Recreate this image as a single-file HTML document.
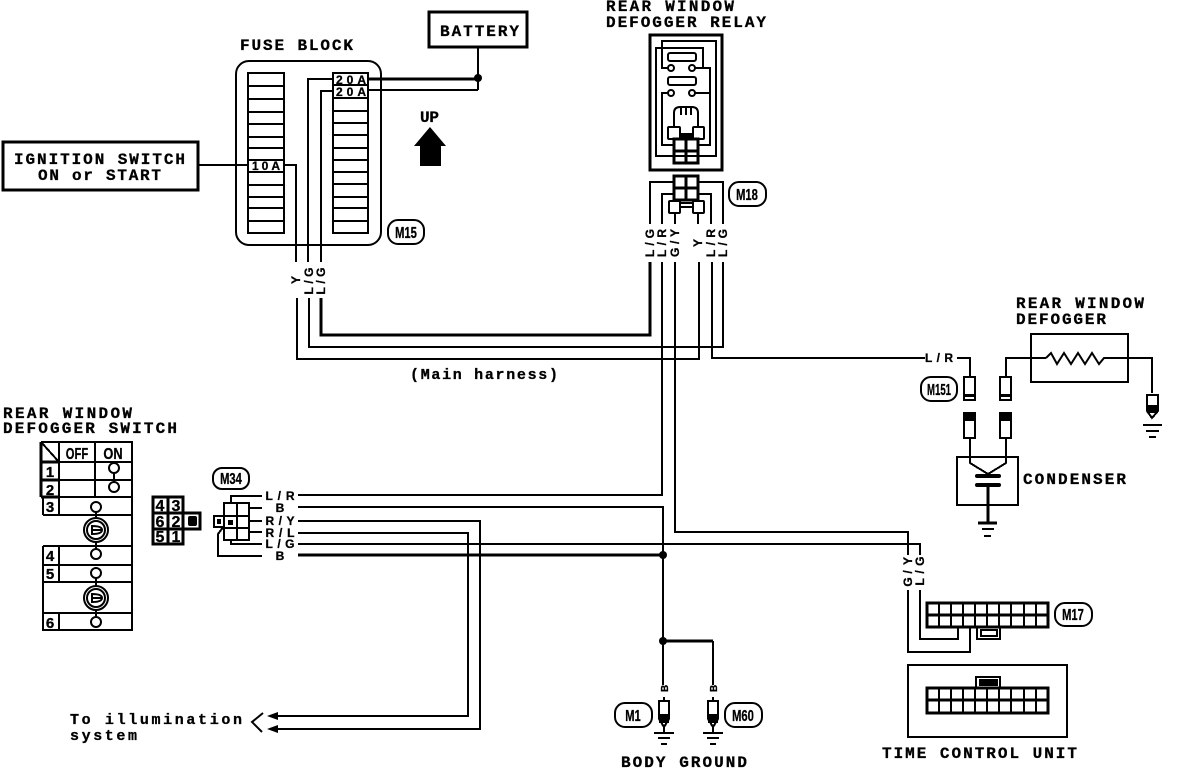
<!DOCTYPE html>
<html>
<head>
<meta charset="utf-8">
<style>
html,body{margin:0;padding:0;background:#fff;width:1184px;height:768px;overflow:hidden}
svg{display:block}
.w{fill:none;stroke:#000;stroke-width:2;shape-rendering:crispEdges}
.t{fill:none;stroke:#000;stroke-width:3;shape-rendering:crispEdges}
.o{fill:#fff;stroke:#000;stroke-width:2}
.c{fill:none;stroke:#000;stroke-width:2}
.k{fill:#000;stroke:none}
text{font-family:"Liberation Mono","Liberation Sans",monospace;font-weight:bold;fill:#000;stroke:#000;stroke-width:.3}
.l{font-size:16px}
.m{font-size:16px;font-family:"Liberation Sans",sans-serif;text-anchor:middle}
.s{font-size:12px;font-family:"Liberation Sans",sans-serif;text-anchor:middle}
.v{font-size:12px;font-family:"Liberation Sans",sans-serif;text-anchor:middle}
.h{font-size:15px;font-family:"Liberation Sans",sans-serif;text-anchor:middle}
</style>
</head>
<body>
<svg width="1184" height="768" viewBox="0 0 1184 768" xmlns="http://www.w3.org/2000/svg">
<rect width="1184" height="768" fill="#fff"/>

<!-- Battery -->
<rect class="t" x="429" y="12" width="98" height="35"/>
<text class="l" x="440" y="36" textLength="79" lengthAdjust="spacing">BATTERY</text>
<path class="w" d="M478 47V90M368 90H478"/>
<path class="t" d="M368 79H478"/>
<circle class="k" cx="478" cy="78" r="4"/>

<!-- Fuse block -->
<text class="l" x="240" y="50" textLength="113" lengthAdjust="spacing">FUSE BLOCK</text>
<rect class="c" x="236" y="61" width="145" height="184" rx="13"/>
<path class="w" d="M248 73H284V233H248ZM248 86H284M248 99H284M248 112H284M248 124H284M248 137H284M248 148H284M248 160H284M248 172H284M248 185H284M248 197H284M248 208H284M248 221H284"/>
<path class="w" d="M333 73H368V233H333ZM333 85H368M333 98H368M333 111H368M333 123H368M333 135H368M333 148H368M333 160H368M333 172H368M333 184H368M333 197H368M333 208H368M333 221H368"/>
<text class="s" x="351" y="84" textLength="30" lengthAdjust="spacing">20A</text>
<text class="s" x="351" y="96" textLength="30" lengthAdjust="spacing">20A</text>
<text class="s" x="266" y="170" textLength="28" lengthAdjust="spacing">10A</text>
<path class="w" d="M333 79H308V262M333 91H321V262"/>
<path class="w" d="M284 165H296V262"/>
<rect class="c" x="388" y="220" width="36" height="24" rx="10"/>
<text class="m" transform="translate(406,238) scale(.7,1)">M15</text>

<text class="v" transform="translate(300,280) rotate(-90)">Y</text>
<text class="v" transform="translate(313,281) rotate(-90)" textLength="27" lengthAdjust="spacing">L/G</text>
<text class="v" transform="translate(325,281) rotate(-90)" textLength="27" lengthAdjust="spacing">L/G</text>

<!-- UP arrow -->
<text class="l" x="420" y="122" textLength="19" lengthAdjust="spacing">UP</text>
<path class="k" d="M430 127L446 146H441V166H420V146H414Z"/>

<!-- Ignition -->
<rect class="t" x="3" y="142" width="195" height="48"/>
<text class="l" x="14" y="164" textLength="171" lengthAdjust="spacing">IGNITION SWITCH</text>
<text class="l" x="38" y="180" textLength="123" lengthAdjust="spacing">ON or START</text>
<path class="w" d="M198 165H248"/>

<!-- Harness -->
<path class="w" d="M297 298V359H699V262"/>
<path class="w" d="M309 298V347H723V262"/>
<path class="t" d="M321 298V335H650V262"/>
<path class="w" d="M662 262V495H298"/>
<path class="w" d="M675 262V532H908V555"/>
<path class="w" d="M712 262V358H925"/>
<text x="410" y="379" textLength="148" lengthAdjust="spacing" style="font-size:15px">(Main harness)</text>

<!-- Relay -->
<text class="l" x="606" y="11" textLength="128" lengthAdjust="spacing">REAR WINDOW</text>
<text class="l" x="606" y="27" textLength="160" lengthAdjust="spacing">DEFOGGER RELAY</text>
<rect class="t" x="650" y="35" width="72" height="135"/>
<path class="w" d="M668 68H662V41H716V156H674"/>
<path class="w" d="M692 68H703V48H656V156H674"/>
<path class="w" d="M692 68H710V145H698M692 93H710M668 93H662V145H674"/>
<rect class="c" x="668" y="53" width="28" height="8" rx="2"/>
<rect class="c" x="668" y="77" width="28" height="8" rx="2"/>
<circle class="o" cx="671" cy="68" r="3"/><circle class="o" cx="692" cy="68" r="3"/>
<circle class="o" cx="671" cy="93" r="3"/><circle class="o" cx="692" cy="93" r="3"/>
<path class="c" d="M674 127V113Q674 107 680 107H692Q698 107 698 113V127"/>
<path class="w" d="M681 108V115M686 108V115M691 108V115"/>
<rect class="o" x="668" y="127" width="12" height="12" rx="1"/>
<rect class="o" x="693" y="127" width="11" height="12" rx="1"/>
<rect class="k" x="680" y="133" width="13" height="7"/>
<path class="t" d="M674 139H698V163H674ZM686 139V163M674 151H698"/>

<!-- M18 -->
<path class="t" d="M674 176H698V200H674ZM686 176V200M674 188H698"/>
<path class="w" d="M674 182H650V224M698 182H723V224M674 194H662V224M698 194H711V224M675 213V224M698 213V224"/>
<rect class="o" x="669" y="201" width="11" height="12" rx="1"/>
<rect class="o" x="693" y="201" width="11" height="12" rx="1"/>
<path class="w" d="M680 203H693M680 207H693"/>
<rect class="c" x="729" y="182" width="37" height="24" rx="10"/>
<text class="m" transform="translate(747,200) scale(.7,1)">M18</text>
<text class="v" transform="translate(654,243) rotate(-90)" textLength="28" lengthAdjust="spacing">L/G</text>
<text class="v" transform="translate(666,243) rotate(-90)" textLength="28" lengthAdjust="spacing">L/R</text>
<text class="v" transform="translate(679,243) rotate(-90)" textLength="28" lengthAdjust="spacing">G/Y</text>
<text class="v" transform="translate(702,243) rotate(-90)">Y</text>
<text class="v" transform="translate(715,243) rotate(-90)" textLength="28" lengthAdjust="spacing">L/R</text>
<text class="v" transform="translate(727,243) rotate(-90)" textLength="28" lengthAdjust="spacing">L/G</text>

<!-- Defogger -->
<text class="l" x="1016" y="308" textLength="128" lengthAdjust="spacing">REAR WINDOW</text>
<text class="l" x="1016" y="324" textLength="90" lengthAdjust="spacing">DEFOGGER</text>
<rect class="w" x="1031" y="334" width="97" height="48"/>
<text class="s" x="939" y="362" textLength="28" lengthAdjust="spacing">L/R</text>
<path class="w" d="M957 358H970V377M1006 377V358H1046M1110 358H1152V393"/>
<path class="c" d="M1046 358L1051 353L1057 364L1064 353L1071 364L1078 353L1085 364L1092 353L1099 364L1104 358H1110"/>
<rect class="c" x="921" y="377" width="36" height="24" rx="10"/>
<text class="m" transform="translate(939,395) scale(.6,1)">M151</text>
<path class="w" d="M964 377H975V400H964ZM1000 377H1011V400H1000Z"/>
<rect class="k" x="964" y="394" width="11" height="3"/><rect class="k" x="1000" y="394" width="11" height="3"/>
<path class="w" d="M964 413H975V438H964ZM1000 413H1011V438H1000Z"/>
<rect class="k" x="963" y="412" width="13" height="9"/><rect class="k" x="999" y="412" width="13" height="9"/>
<rect class="w" x="957" y="457" width="61" height="48"/>
<path class="w" d="M970 438V463L988 474L1006 463V438"/>
<rect class="k" x="975" y="474" width="26" height="4" rx="2"/>
<rect class="k" x="975" y="483" width="26" height="4" rx="2"/>
<path class="t" d="M988 487V523"/>
<path class="t" d="M978 523H997"/><path class="w" d="M982 529H994M984 536H991"/>
<text class="l" x="1023" y="484" textLength="103" lengthAdjust="spacing">CONDENSER</text>
<path class="w" d="M1147 395H1158V411L1152 418L1147 411Z"/>
<rect class="k" x="1147" y="405" width="11" height="8"/>
<path class="w" d="M1143 425H1162M1146 431H1159M1149 437H1156"/>

<!-- Switch -->
<text class="l" x="3" y="418" textLength="129" lengthAdjust="spacing">REAR WINDOW</text>
<text class="l" x="3" y="433" textLength="174" lengthAdjust="spacing">DEFOGGER SWITCH</text>
<path class="w" d="M41 442H132V497M43 497H132V515M43 515H132V546M43 546H132V565M43 565H132V582M43 582H132V613M43 613H132V630H43V613M43 497V515M43 546V565M43 565V582M43 582V613M59 442V497M95 442V497M59 497V515M59 546V582M59 613V630"/>
<path class="t" d="M41 442V497M41 462H59M41 480H59M41 497H59"/>
<path class="w" d="M41 442L59 462"/>
<path class="w" d="M59 462H132M59 480H132"/>
<text class="m" transform="translate(77,459) scale(.7,1)">OFF</text>
<text class="m" transform="translate(113,459) scale(.8,1)">ON</text>
<text class="h" x="50" y="477">1</text><text class="h" x="50" y="495">2</text>
<text class="h" x="50" y="512">3</text><text class="h" x="50" y="561">4</text>
<text class="h" x="50" y="579">5</text><text class="h" x="50" y="628">6</text>
<path class="w" d="M114 468V487M96 507V554M96 573V622"/>
<circle class="o" cx="114" cy="468" r="5"/><circle class="o" cx="114" cy="487" r="5"/>
<circle class="o" cx="96" cy="507" r="5"/><circle class="o" cx="96" cy="554" r="5"/>
<circle class="o" cx="96" cy="573" r="5"/><circle class="o" cx="96" cy="622" r="5"/>
<circle class="o" cx="96" cy="530" r="12"/><circle class="c" cx="96" cy="530" r="9"/>
<circle class="o" cx="96" cy="598" r="12"/><circle class="c" cx="96" cy="598" r="9"/>
<path class="c" d="M92 526Q102 526 102 530Q102 534 92 534ZM92 530H102M92 594Q102 594 102 598Q102 602 92 602ZM92 598H102"/>

<!-- switch connector -->
<path class="t" d="M153 497H183V544H153ZM168 497V544M153 513H183M153 529H183"/>
<path class="t" d="M183 513H200V529H183"/>
<rect class="k" x="188" y="516" width="9" height="10" rx="2"/>
<text class="h" x="160" y="511" style="font-size:16px">4</text><text class="h" x="176" y="511" style="font-size:16px">3</text>
<text class="h" x="160" y="527" style="font-size:16px">6</text><text class="h" x="176" y="527" style="font-size:16px">2</text>
<text class="h" x="160" y="542" style="font-size:16px">5</text><text class="h" x="176" y="542" style="font-size:16px">1</text>

<!-- M34 -->
<rect class="c" x="213" y="468" width="36" height="21" rx="9"/>
<text class="m" transform="translate(231,484) scale(.7,1)">M34</text>
<path class="w" d="M224 503H249V540H224ZM237 503V540M224 516H249M224 528H249"/>
<path class="w" d="M214 516H224V527H214Z"/><rect class="k" x="217" y="519" width="4" height="5"/>
<rect class="k" x="228" y="520" width="5" height="5"/>
<path class="w" d="M231 503V496H262M249 508H262M249 521H262M249 532H262M231 540V544H262M224 526L218 534V556H262"/>
<text class="s" x="280" y="500" textLength="29" lengthAdjust="spacing">L/R</text>
<text class="s" x="280" y="512">B</text>
<text class="s" x="280" y="525" textLength="29" lengthAdjust="spacing">R/Y</text>
<text class="s" x="280" y="537" textLength="29" lengthAdjust="spacing">R/L</text>
<text class="s" x="280" y="548" textLength="29" lengthAdjust="spacing">L/G</text>
<text class="s" x="280" y="560">B</text>

<!-- Harness lower -->
<path class="w" d="M298 507H663V685M298 544H920V555"/>
<path class="t" d="M298 555H663"/>
<path class="w" d="M298 521H480V729H276M298 533H468V716H276"/>
<circle class="k" cx="663" cy="555" r="4"/>
<circle class="k" cx="663" cy="641" r="4"/>
<path class="t" d="M663 641H713"/>
<path class="w" d="M713 641V685"/>
<path class="k" d="M267 716L278 712V720ZM267 729L278 725V733Z"/>
<path class="c" d="M263 713L252 722L262 732"/>
<text x="70" y="724" style="font-size:15px" textLength="172" lengthAdjust="spacing">To illumination</text>
<text x="70" y="740" style="font-size:15px" textLength="67" lengthAdjust="spacing">system</text>

<!-- Grounds -->
<text transform="translate(668,692) rotate(-90)" style="font-size:10px;font-family:'Liberation Sans',sans-serif">B</text>
<text transform="translate(717,692) rotate(-90)" style="font-size:10px;font-family:'Liberation Sans',sans-serif">B</text>
<path class="w" d="M659 701H669V719L664 727L659 719ZM708 701H718V719L713 727L708 719ZM664 697V701M713 697V701"/>
<rect class="k" x="659" y="714" width="10" height="9"/>
<rect class="k" x="708" y="714" width="10" height="9"/>
<path class="w" d="M664 727V733M713 727V733M654 733H674M703 733H723M658 738H670M707 738H719M661 744H667M710 744H716"/>
<rect class="c" x="615" y="703" width="37" height="24" rx="10"/>
<text class="m" transform="translate(633,721) scale(.7,1)">M1</text>
<rect class="c" x="725" y="703" width="37" height="24" rx="10"/>
<text class="m" transform="translate(743,721) scale(.7,1)">M60</text>
<text class="l" x="621" y="767" textLength="126" lengthAdjust="spacing">BODY GROUND</text>

<!-- Time control -->
<text class="v" transform="translate(912,561) rotate(-90)">Y</text>
<text class="v" transform="translate(912,582) rotate(-90)">G</text>
<text class="v" transform="translate(912,572) rotate(-90)">/</text>
<text class="v" transform="translate(924,571) rotate(-90)" textLength="29" lengthAdjust="spacing">L/G</text>
<path class="w" d="M920 590V639H958V627M908 590V652H970V627"/>
<path class="t" d="M927 603H1048V627H927ZM927 615H1048"/>
<path class="w" d="M939 603V627M951 603V627M963 603V627M975 603V627M987 603V627M999 603V627M1011 603V627M1024 603V627M1036 603V627"/>
<path class="w" d="M977 627V639H1000V627"/>
<rect class="w" x="981" y="630" width="16" height="6"/>
<rect class="c" x="1055" y="603" width="37" height="23" rx="10"/>
<text class="m" transform="translate(1073,620) scale(.7,1)">M17</text>
<rect class="w" x="908" y="665" width="159" height="72"/>
<path class="t" d="M927 688H1048V713H927ZM927 700H1048"/>
<path class="w" d="M939 688V713M951 688V713M963 688V713M975 688V713M987 688V713M999 688V713M1011 688V713M1024 688V713M1036 688V713"/>
<path class="w" d="M976 688V677H1000V688"/>
<rect class="k" x="979" y="679" width="19" height="7"/>
<text class="l" x="882" y="758" textLength="195" lengthAdjust="spacing">TIME CONTROL UNIT</text>
</svg>
</body>
</html>
